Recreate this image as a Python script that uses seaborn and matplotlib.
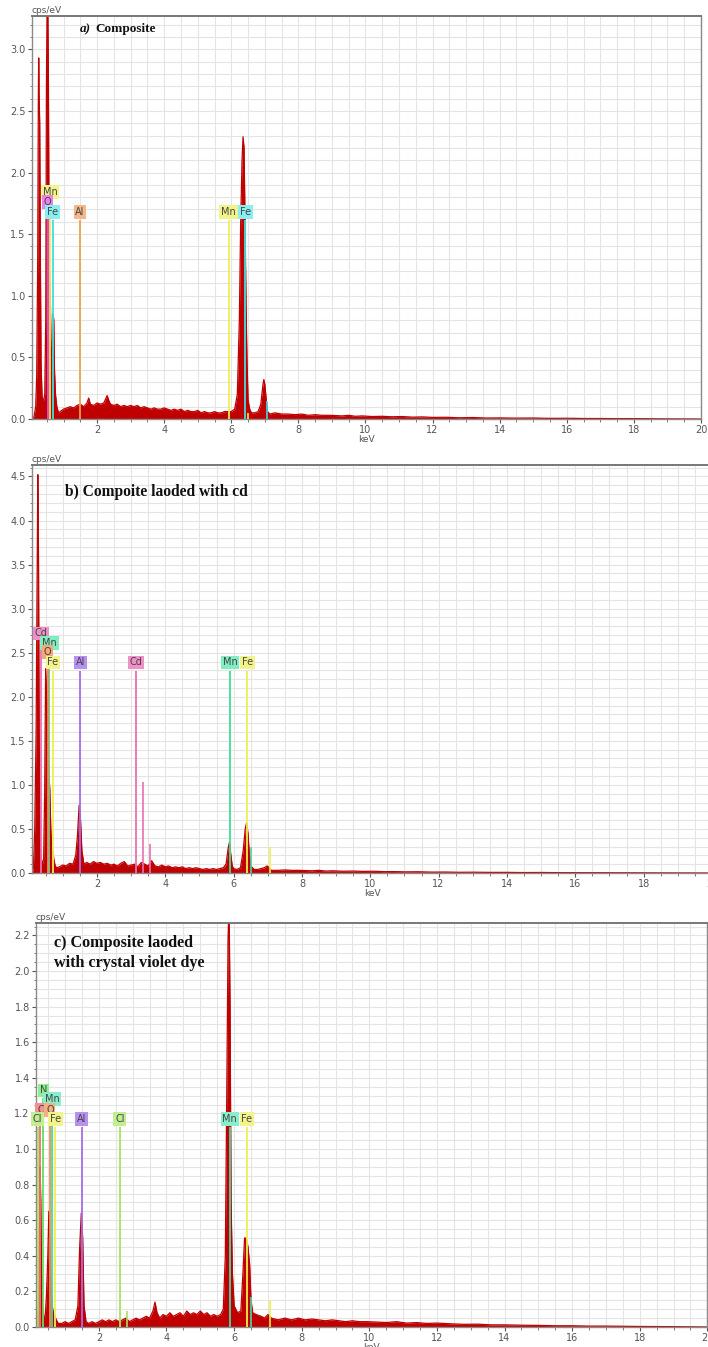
import numpy as np
import pandas as pd
import matplotlib
matplotlib.use("Agg")
import matplotlib.pyplot as plt
import seaborn as sns
from matplotlib.ticker import MultipleLocator, FormatStrFormatter

# ---------------- data ----------------
# Panel a) Composite
energy_a = [0.06, 0.12, 0.17, 0.20, 0.23, 0.25, 0.26, 0.27, 0.29, 0.31, 0.33, 0.36, 0.40, 0.44,
            0.47, 0.49, 0.51, 0.53, 0.55, 0.57, 0.59, 0.61, 0.63, 0.65, 0.67, 0.69, 0.71, 0.73,
            0.76, 0.80, 0.85, 0.90, 1.0, 1.1, 1.2, 1.3, 1.4, 1.5, 1.6, 1.7, 1.75, 1.8, 1.9, 2.0,
            2.1, 2.2, 2.3, 2.35, 2.4, 2.5, 2.6, 2.7, 2.8, 2.9, 3.0, 3.1, 3.2, 3.3, 3.4, 3.5, 3.6,
            3.7, 3.8, 3.9, 4.0, 4.1, 4.2, 4.3, 4.4, 4.5, 4.6, 4.7, 4.8, 4.9, 5.0, 5.1, 5.2, 5.3,
            5.4, 5.5, 5.6, 5.7, 5.8, 5.9, 6.0, 6.1, 6.18, 6.24, 6.28, 6.32, 6.35, 6.38, 6.41,
            6.44, 6.47, 6.50, 6.55, 6.6, 6.7, 6.8, 6.88, 6.94, 6.97, 7.0, 7.04, 7.08, 7.15, 7.3,
            7.5, 7.7, 7.9, 8.1, 8.3, 8.5, 8.7, 8.9, 9.1, 9.3, 9.5, 9.7, 9.9, 10.2, 10.5, 10.8,
            11.1, 11.4, 11.7, 12.0, 12.4, 12.8, 13.2, 13.6, 14.0, 14.5, 15.0, 15.5, 16.0, 16.5,
            17.0, 17.5, 18.0, 18.5, 19.0, 20.0]
cps_a = [0.0, 0.02, 0.10, 0.35, 1.30, 2.65, 2.93, 2.65, 2.40, 1.30, 0.45, 0.18, 0.14, 0.20,
         0.80, 2.70, 3.40, 3.40, 2.70, 1.30, 1.14, 0.90, 0.55, 0.45, 0.60, 0.85, 0.80, 0.40,
         0.20, 0.10, 0.05, 0.06, 0.08, 0.09, 0.10, 0.09, 0.11, 0.12, 0.10, 0.13, 0.17, 0.12,
         0.11, 0.13, 0.12, 0.13, 0.19, 0.15, 0.12, 0.11, 0.12, 0.10, 0.11, 0.10, 0.11, 0.10,
         0.11, 0.09, 0.10, 0.09, 0.08, 0.09, 0.08, 0.08, 0.09, 0.08, 0.07, 0.08, 0.07, 0.08,
         0.06, 0.07, 0.06, 0.06, 0.07, 0.05, 0.06, 0.05, 0.05, 0.06, 0.05, 0.05, 0.06, 0.06,
         0.06, 0.08, 0.20, 0.80, 1.60, 2.10, 2.29, 2.20, 1.60, 0.90, 0.45, 0.15, 0.08, 0.05,
         0.05, 0.06, 0.12, 0.27, 0.32, 0.28, 0.16, 0.06, 0.04, 0.05, 0.04, 0.04, 0.035, 0.04,
         0.03, 0.035, 0.03, 0.03, 0.028, 0.025, 0.03, 0.022, 0.025, 0.02, 0.022, 0.018, 0.02,
         0.015, 0.017, 0.013, 0.014, 0.01, 0.012, 0.008, 0.009, 0.007, 0.008, 0.005, 0.006,
         0.004, 0.004, 0.003, 0.003, 0.002, 0.001, 0.0]

# Panel b) Composite loaded with Cd
energy_b = [0.10, 0.14, 0.18, 0.22, 0.25, 0.27, 0.29, 0.31, 0.33, 0.36, 0.40, 0.44, 0.47, 0.50,
            0.53, 0.56, 0.59, 0.62, 0.65, 0.68, 0.71, 0.74, 0.78, 0.82, 0.9, 1.0, 1.1, 1.2, 1.3,
            1.38, 1.43, 1.48, 1.52, 1.56, 1.62, 1.7, 1.8, 1.9, 2.0, 2.1, 2.2, 2.3, 2.4, 2.5, 2.6,
            2.7, 2.8, 2.9, 3.0, 3.1, 3.2, 3.3, 3.4, 3.5, 3.6, 3.7, 3.8, 3.9, 4.0, 4.1, 4.2, 4.3,
            4.4, 4.5, 4.6, 4.7, 4.8, 4.9, 5.0, 5.1, 5.2, 5.3, 5.4, 5.5, 5.6, 5.7, 5.78, 5.84,
            5.88, 5.92, 5.96, 6.0, 6.1, 6.2, 6.28, 6.34, 6.38, 6.42, 6.46, 6.5, 6.6, 6.7, 6.8,
            6.9, 6.98, 7.04, 7.1, 7.3, 7.5, 7.7, 7.9, 8.1, 8.3, 8.5, 8.7, 8.9, 9.2, 9.5, 9.8,
            10.1, 10.4, 10.7, 11.0, 11.4, 11.8, 12.2, 12.6, 13.0, 13.5, 14.0, 14.5, 15.0, 15.5,
            16.0, 16.5, 17.0, 18.0, 19.0, 20.0]
cps_b = [0.0, 0.05, 0.50, 1.60, 3.35, 4.52, 3.60, 1.60, 0.45, 0.20, 0.10, 0.15, 0.90, 2.32,
         2.00, 1.80, 1.15, 0.95, 0.50, 0.27, 0.25, 0.15, 0.08, 0.06, 0.07, 0.09, 0.08, 0.11,
         0.10, 0.20, 0.42, 0.77, 0.60, 0.25, 0.10, 0.12, 0.10, 0.13, 0.11, 0.12, 0.10, 0.11,
         0.09, 0.10, 0.08, 0.11, 0.13, 0.08, 0.09, 0.10, 0.07, 0.12, 0.10, 0.08, 0.14, 0.08,
         0.07, 0.09, 0.07, 0.08, 0.06, 0.07, 0.06, 0.07, 0.05, 0.06, 0.05, 0.06, 0.05, 0.04,
         0.05, 0.04, 0.05, 0.04, 0.05, 0.06, 0.10, 0.28, 0.35, 0.20, 0.08, 0.05, 0.04, 0.06,
         0.25, 0.50, 0.57, 0.45, 0.22, 0.08, 0.04, 0.04, 0.05, 0.06, 0.08, 0.06, 0.03, 0.03,
         0.035, 0.03, 0.03, 0.028, 0.025, 0.03, 0.022, 0.025, 0.02, 0.022, 0.018, 0.02, 0.015,
         0.016, 0.013, 0.014, 0.01, 0.011, 0.008, 0.009, 0.007, 0.007, 0.005, 0.006, 0.004,
         0.004, 0.003, 0.003, 0.002, 0.001, 0.0]

# Panel c) Composite loaded with crystal violet dye
energy_c = [0.14, 0.17, 0.20, 0.23, 0.26, 0.28, 0.30, 0.33, 0.37, 0.41, 0.45, 0.49, 0.52, 0.55,
            0.58, 0.62, 0.66, 0.70, 0.74, 0.80, 0.9, 1.0, 1.1, 1.2, 1.3, 1.38, 1.43, 1.48, 1.52,
            1.56, 1.62, 1.7, 1.8, 1.9, 2.0, 2.1, 2.2, 2.3, 2.4, 2.5, 2.6, 2.7, 2.8, 2.9, 3.0,
            3.1, 3.2, 3.3, 3.4, 3.5, 3.6, 3.66, 3.72, 3.8, 3.9, 4.0, 4.1, 4.2, 4.3, 4.4, 4.5,
            4.6, 4.7, 4.8, 4.9, 5.0, 5.1, 5.2, 5.3, 5.4, 5.5, 5.6, 5.68, 5.74, 5.78, 5.82, 5.85,
            5.88, 5.91, 5.95, 6.0, 6.1, 6.2, 6.26, 6.31, 6.36, 6.41, 6.46, 6.5, 6.55, 6.65, 6.8,
            6.9, 7.0, 7.1, 7.3, 7.5, 7.7, 7.9, 8.1, 8.3, 8.5, 8.7, 8.9, 9.1, 9.3, 9.5, 9.7, 9.9,
            10.2, 10.5, 10.8, 11.1, 11.4, 11.7, 12.0, 12.4, 12.8, 13.2, 13.6, 14.0, 14.5, 15.0,
            15.5, 16.0, 16.5, 17.0, 17.5, 18.0, 19.0, 20.0]
cps_c = [0.0, 0.08, 0.05, 0.30, 0.90, 0.72, 0.37, 0.12, 0.06, 0.05, 0.18, 0.40, 0.65, 0.45,
         0.25, 0.12, 0.07, 0.06, 0.04, 0.02, 0.02, 0.03, 0.02, 0.03, 0.04, 0.12, 0.44, 0.64,
         0.50, 0.12, 0.03, 0.02, 0.03, 0.02, 0.03, 0.04, 0.03, 0.04, 0.03, 0.04, 0.03, 0.04,
         0.05, 0.03, 0.04, 0.05, 0.04, 0.05, 0.06, 0.05, 0.09, 0.14, 0.08, 0.05, 0.07, 0.06,
         0.08, 0.06, 0.07, 0.08, 0.06, 0.09, 0.07, 0.08, 0.07, 0.09, 0.07, 0.08, 0.06, 0.07,
         0.06, 0.07, 0.10, 0.40, 1.25, 2.17, 2.40, 1.80, 0.70, 0.30, 0.12, 0.08, 0.09, 0.30,
         0.50, 0.50, 0.45, 0.35, 0.15, 0.08, 0.07, 0.06, 0.05, 0.07, 0.05, 0.04, 0.05, 0.04,
         0.05, 0.04, 0.045, 0.04, 0.035, 0.04, 0.035, 0.03, 0.035, 0.03, 0.03, 0.028, 0.025,
         0.03, 0.022, 0.025, 0.02, 0.022, 0.018, 0.015, 0.016, 0.012, 0.012, 0.01, 0.009,
         0.007, 0.007, 0.005, 0.005, 0.004, 0.003, 0.002, 0.0]

# element markers: name, energy (keV), label height (cps/eV), line colour, box colour
elem_a = ["Mn", "O", "Fe", "Al", "Mn", "Fe"]
elem_e_a = [0.60, 0.53, 0.68, 1.49, 5.92, 6.42]
elem_y_a = [1.84, 1.76, 1.68, 1.68, 1.68, 1.68]
elem_col_a = ["#EFEF50", "#E050E0", "#40DDE0", "#F0A050", "#EFEF50", "#40DDE0"]
elem_box_a = ["#F3F38C", "#EE80EE", "#88EEF0", "#F5B888", "#F3F38C", "#88EEF0"]
small_e_a = [6.49, 7.06]
small_h_a = [0.05, 0.15]
small_col_a = ["#EFEF50", "#40DDE0"]

elem_b = ["Cd", "Mn", "O", "Fe", "Al", "Cd", "Mn", "Fe"]
elem_e_b = [0.36, 0.61, 0.56, 0.71, 1.51, 3.15, 5.90, 6.40]
elem_y_b = [2.72, 2.61, 2.51, 2.39, 2.39, 2.39, 2.39, 2.39]
elem_col_b = ["#E870B0", "#40DC98", "#F08850", "#EFEF50", "#A070E8", "#E870B0", "#40DC98", "#EFEF50"]
elem_box_b = ["#F090C8", "#80EEC0", "#F5A878", "#F3F38C", "#B890F0", "#F090C8", "#80EEC0", "#F3F38C"]
small_e_b = [3.34, 3.55, 6.50, 7.07]
small_h_b = [1.03, 0.33, 0.30, 0.30]
small_col_b = ["#E870B0", "#E870B0", "#40DC98", "#EFEF50"]

elem_c = ["N", "Mn", "C", "O", "Cl", "Fe", "Al", "Cl", "Mn", "Fe"]
elem_e_c = [0.36, 0.62, 0.27, 0.55, 0.19, 0.71, 1.49, 2.62, 5.87, 6.38]
elem_y_c = [1.33, 1.28, 1.22, 1.22, 1.17, 1.17, 1.17, 1.17, 1.17, 1.17]
elem_col_c = ["#60E060", "#40DCA8", "#F07070", "#F09050", "#A8E060", "#EFEF50", "#A070E8",
              "#A8E060", "#40DCA8", "#EFEF50"]
elem_box_c = ["#90EE90", "#88EECC", "#F59090", "#F5B080", "#C0EE90", "#F3F38C", "#B890F0",
              "#C0EE90", "#88EECC", "#F3F38C"]
small_e_c = [2.82, 6.49, 7.06]
small_h_c = [0.09, 0.17, 0.15]
small_col_c = ["#A8E060", "#40DCA8", "#EFEF50"]

yticks_a = [0.0, 0.5, 1.0, 1.5, 2.0, 2.5, 3.0]
yticks_b = [0.0, 0.5, 1.0, 1.5, 2.0, 2.5, 3.0, 3.5, 4.0, 4.5]
yticks_c = [0.0, 0.2, 0.4, 0.6, 0.8, 1.0, 1.2, 1.4, 1.6, 1.8, 2.0, 2.2]
xticks = [2, 4, 6, 8, 10, 12, 14, 16, 18, 20]

# ---------------- figure ----------------
sns.set_theme(style="white")
plt.rcParams["font.family"] = ["DejaVu Sans"]

W, H = 708, 1347
fig = plt.figure(figsize=(W / 100, H / 100), dpi=100)


def add_ax(l, r, t, b):
    return fig.add_axes([l / W, 1 - b / H, (r - l) / W, (b - t) / H])


RED = "#C00000"


def draw_panel(ax, E, C, xlim, ylim, yticks, yminor, names, ee, ey, ecol, ebox,
               se, sh, scol):
    df = pd.DataFrame({"keV": E, "cps": C})
    ax.set_xlim(*xlim)
    ax.set_ylim(*ylim)
    ax.xaxis.set_minor_locator(MultipleLocator(0.5))
    ax.yaxis.set_minor_locator(MultipleLocator(yminor))
    ax.set_xticks(xticks)
    ax.set_yticks(yticks)
    ax.yaxis.set_major_formatter(FormatStrFormatter("%.1f"))
    ax.grid(which="both", color="#e4e4e4", lw=0.8)
    ax.set_axisbelow(True)
    ax.fill_between(df["keV"], df["cps"], color=RED, lw=0, zorder=2)
    sns.lineplot(data=df, x="keV", y="cps", ax=ax, color=RED, lw=0.9, zorder=2)
    # element lines
    for n, e, y, c, bc in zip(names, ee, ey, ecol, ebox):
        ax.vlines(e, 0, y - 0.02 * ylim[1], color=c, lw=1.3, zorder=3)
    for e, h, c in zip(se, sh, scol):
        ax.vlines(e, 0, h, color=c, lw=1.2, zorder=3)
    for n, e, y, c, bc in zip(names, ee, ey, ecol, ebox):
        ax.text(e, y, n, ha="center", va="center", fontsize=7, color="#444444", zorder=5,
                bbox=dict(boxstyle="square,pad=0.18", fc=bc, ec="none"))
    ax.set_xlabel("keV", fontsize=6.5, color="#555555", labelpad=0)
    ax.set_ylabel("")
    ax.text(0.0, 1.003, "cps/eV", transform=ax.transAxes, fontsize=6.5, color="#555555",
            va="bottom", ha="left")
    ax.tick_params(axis="both", which="major", labelsize=7, labelcolor="#555555",
                   color="#555555", length=3, width=0.8, direction="out", pad=1.5)
    ax.tick_params(axis="both", which="minor", color="#666666", length=1.8, width=0.6,
                   direction="out")
    ax.tick_params(left=True, bottom=True, which="both")
    for s in ax.spines.values():
        s.set_color("#8a8a8a")
        s.set_linewidth(1.0)
    ax.spines["top"].set_color("#777777")
    ax.spines["top"].set_linewidth(1.4)


ax_a = add_ax(32, 701, 16, 419)
draw_panel(ax_a, energy_a, cps_a, (0.06, 20), (0, 3.27), yticks_a, 0.1,
           elem_a, elem_e_a, elem_y_a, elem_col_a, elem_box_a,
           small_e_a, small_h_a, small_col_a)

ax_b = add_ax(32, 712, 465, 873)
draw_panel(ax_b, energy_b, cps_b, (0.1, 20), (0, 4.63), yticks_b, 0.1,
           elem_b, elem_e_b, elem_y_b, elem_col_b, elem_box_b,
           small_e_b, small_h_b, small_col_b)

ax_c = add_ax(36, 707.4, 923, 1327)
draw_panel(ax_c, energy_c, cps_c, (0.14, 20), (0, 2.27), yticks_c, 0.05,
           elem_c, elem_e_c, elem_y_c, elem_col_c, elem_box_c,
           small_e_c, small_h_c, small_col_c)

# panel titles
serif = ["Liberation Serif", "DejaVu Serif"]
fig.text(80 / W, 1 - 29 / H, "a)", fontsize=9.5, fontweight="bold", fontstyle="italic",
         family=serif, va="center", ha="left", color="#111111")
fig.text(95 / W, 1 - 29 / H, "Composite", fontsize=9.5, fontweight="bold",
         family=serif, va="center", ha="left", color="#111111")
fig.text(65 / W, 1 - 492 / H, "b) Compoite laoded with cd", fontsize=11.2, fontweight="bold",
         family=serif, va="center", ha="left", color="#111111")
fig.text(54 / W, 1 - 943 / H, "c) Composite laoded", fontsize=11.6, fontweight="bold",
         family=serif, va="center", ha="left", color="#111111")
fig.text(54 / W, 1 - 963 / H, "with crystal violet dye", fontsize=11.6, fontweight="bold",
         family=serif, va="center", ha="left", color="#111111")

fig.savefig("out.png", dpi=100)
